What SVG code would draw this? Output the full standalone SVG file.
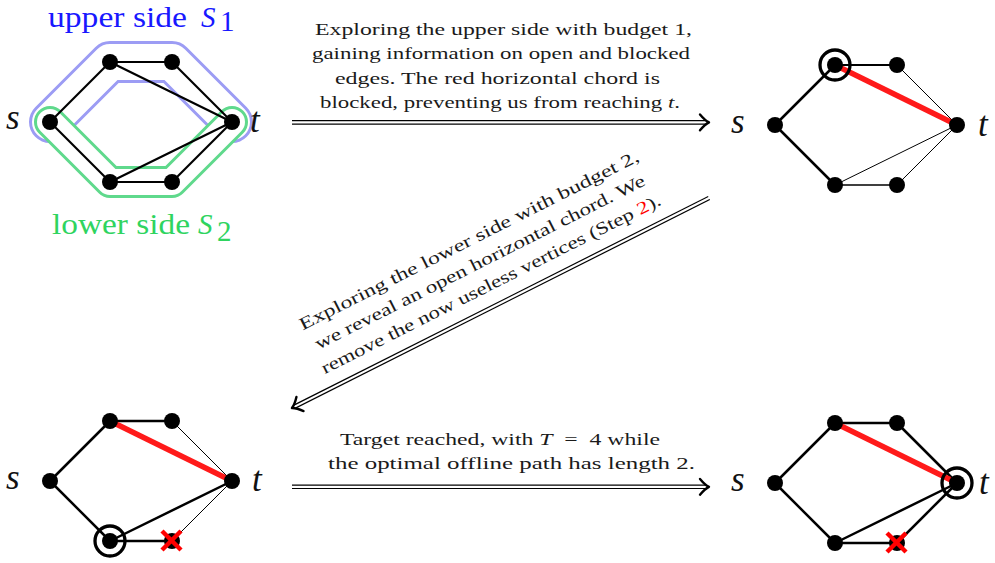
<svg xmlns="http://www.w3.org/2000/svg" width="995" height="563" viewBox="0 0 995 563">
<style>
.lbl{font-family:"Liberation Serif","DejaVu Serif",serif;font-size:17.5px;fill:#1a1a1a}
.math{font-family:"Liberation Serif","DejaVu Serif",serif;font-style:italic;font-size:35px;fill:#111}
.side{font-family:"Liberation Serif","DejaVu Serif",serif;font-size:29px}
.e{stroke:#000;stroke-linecap:round;fill:none}
.red{stroke:#ff1a1a;stroke-width:5.5;stroke-linecap:butt}
.node{fill:#000}
.ring{fill:none;stroke:#000;stroke-width:3.3}
.x{stroke:#ff0000;stroke-width:4.5;stroke-linecap:butt}
.dbl-o{stroke:#000;stroke-width:4.6;fill:none}
.dbl-i{stroke:#fff;stroke-width:2.2;fill:none}
.head{stroke:#000;stroke-width:2.4;fill:none;stroke-linecap:round;stroke-linejoin:round}
</style>
<rect width="995" height="563" fill="#fff"/>

<!-- Panel 1 -->
<g id="panel1">
<g id="bands">
<path d="M50,122 L110,62 L172,62 L232,122" fill="none" stroke="#9c9cf4" stroke-width="42" stroke-linejoin="round" stroke-linecap="round"/>
<path d="M50,122 L110,62 L172,62 L232,122" fill="none" stroke="#fff" stroke-width="36" stroke-linejoin="round" stroke-linecap="round"/>
<path d="M50,122 L110,182 L172,182 L232,122" fill="none" stroke="#5fd98c" stroke-width="32" stroke-linejoin="round" stroke-linecap="round"/>
<path d="M50,122 L110,182 L172,182 L232,122" fill="none" stroke="#fff" stroke-width="26" stroke-linejoin="round" stroke-linecap="round"/>
</g>
<g id="p1-edges" class="e" stroke-width="2.2">
<line x1="50" y1="122" x2="110" y2="62"/>
<line x1="110" y1="62" x2="172" y2="62"/>
<line x1="172" y1="62" x2="232" y2="122"/>
<line x1="110" y1="62" x2="232" y2="122"/>
<line x1="50" y1="122" x2="110" y2="182"/>
<line x1="110" y1="182" x2="172" y2="182"/>
<line x1="172" y1="182" x2="232" y2="122"/>
<line x1="110" y1="182" x2="232" y2="122"/>
</g>
<g id="p1-s"><circle class="node" cx="50" cy="122" r="8"/><text class="math" x="6" y="129">s</text></g>
<g id="p1-ul"><circle class="node" cx="110" cy="62" r="8"/></g>
<g id="p1-ur"><circle class="node" cx="172" cy="62" r="8"/></g>
<g id="p1-t"><circle class="node" cx="232" cy="122" r="8"/><text class="math" x="250" y="132">t</text></g>
<g id="p1-ll"><circle class="node" cx="110" cy="182" r="8"/></g>
<g id="p1-lr"><circle class="node" cx="172" cy="182" r="8"/></g>
<g id="label-upper" fill="#1818ff">
<text class="side" x="48" y="27" textLength="139" lengthAdjust="spacingAndGlyphs">upper side</text>
<text class="side" x="201" y="27" font-style="italic">S</text>
<text class="side" x="220" y="31" font-size="19">1</text>
</g>
<g id="label-lower" fill="#2fd45f">
<text class="side" x="52" y="234" textLength="138" lengthAdjust="spacingAndGlyphs">lower side</text>
<text class="side" x="198" y="234" font-style="italic">S</text>
<text class="side" x="217" y="241" font-size="19">2</text>
</g>
</g>

<!-- Panel 2 -->
<g id="panel2" transform="translate(725,3)">
<g id="p2-edges" class="e">
<line x1="50" y1="122" x2="110" y2="62" stroke-width="2.5"/>
<line x1="50" y1="122" x2="110" y2="182" stroke-width="2.5"/>
<line x1="110" y1="62" x2="172" y2="62" stroke-width="2"/>
<line x1="172" y1="62" x2="232" y2="122" stroke-width="1"/>
<line x1="110" y1="182" x2="232" y2="122" stroke-width="1"/>
<line x1="110" y1="182" x2="172" y2="182" stroke-width="1.3"/>
<line x1="172" y1="182" x2="232" y2="122" stroke-width="1"/>
<line class="red" x1="110" y1="62" x2="232" y2="122"/>
</g>
<g id="p2-s"><circle class="node" cx="50" cy="122" r="8"/><text class="math" x="6" y="130">s</text></g>
<g id="p2-ul"><circle class="node" cx="110" cy="62" r="8"/><circle class="ring" cx="110" cy="62" r="15"/></g>
<g id="p2-ur"><circle class="node" cx="172" cy="62" r="8"/></g>
<g id="p2-t"><circle class="node" cx="232" cy="122" r="8"/><text class="math" x="253" y="133">t</text></g>
<g id="p2-ll"><circle class="node" cx="110" cy="182" r="8"/></g>
<g id="p2-lr"><circle class="node" cx="172" cy="182" r="8"/></g>
</g>

<!-- Panel 3 -->
<g id="panel3" transform="translate(0,359)">
<g id="p3-edges" class="e">
<line x1="50" y1="122" x2="110" y2="62" stroke-width="2.5"/>
<line x1="110" y1="62" x2="172" y2="62" stroke-width="2.5"/>
<line x1="172" y1="62" x2="232" y2="122" stroke-width="1"/>
<line x1="50" y1="122" x2="110" y2="182" stroke-width="2.5"/>
<line x1="110" y1="182" x2="232" y2="122" stroke-width="2.5"/>
<line x1="110" y1="182" x2="172" y2="182" stroke-width="2.5"/>
<line x1="172" y1="182" x2="232" y2="122" stroke-width="1"/>
<line class="red" x1="110" y1="62" x2="232" y2="122"/>
</g>
<g id="p3-s"><circle class="node" cx="50" cy="122" r="8"/><text class="math" x="6" y="130">s</text></g>
<g id="p3-ul"><circle class="node" cx="110" cy="62" r="8"/></g>
<g id="p3-ur"><circle class="node" cx="172" cy="62" r="8"/></g>
<g id="p3-t"><circle class="node" cx="232" cy="122" r="8"/><text class="math" x="252" y="132">t</text></g>
<g id="p3-ll"><circle class="node" cx="110" cy="182" r="8"/><circle class="ring" cx="110" cy="182" r="15"/></g>
<g id="p3-lr"><circle class="node" cx="172" cy="182" r="8"/>
<line class="x" x1="162" y1="172" x2="181" y2="191"/><line class="x" x1="181" y1="172" x2="162" y2="191"/></g>
</g>

<!-- Panel 4 -->
<g id="panel4" transform="translate(725,361)">
<g id="p4-edges" class="e" stroke-width="2.5">
<line x1="50" y1="122" x2="110" y2="62"/>
<line x1="110" y1="62" x2="172" y2="62"/>
<line x1="172" y1="62" x2="232" y2="122"/>
<line x1="50" y1="122" x2="110" y2="182"/>
<line x1="110" y1="182" x2="232" y2="122"/>
<line x1="110" y1="182" x2="172" y2="182"/>
<line x1="172" y1="182" x2="232" y2="122"/>
<line class="red" x1="110" y1="62" x2="232" y2="122"/>
</g>
<g id="p4-s"><circle class="node" cx="50" cy="122" r="8"/><text class="math" x="6" y="130">s</text></g>
<g id="p4-ul"><circle class="node" cx="110" cy="62" r="8"/></g>
<g id="p4-ur"><circle class="node" cx="172" cy="62" r="8"/></g>
<g id="p4-t"><circle class="node" cx="232" cy="122" r="8"/><circle class="ring" cx="232" cy="122" r="15"/><text class="math" x="254" y="133">t</text></g>
<g id="p4-ll"><circle class="node" cx="110" cy="182" r="8"/></g>
<g id="p4-lr"><circle class="node" cx="172" cy="182" r="8"/>
<line class="x" x1="162" y1="172" x2="181" y2="191"/><line class="x" x1="181" y1="172" x2="162" y2="191"/></g>
</g>

<!-- Connectors -->
<g id="connectors">
<g id="arrow1">
<line class="dbl-o" x1="292" y1="122.4" x2="706" y2="122.4"/>
<line class="dbl-i" x1="291" y1="122.4" x2="707" y2="122.4"/>
<path class="head" d="M700,114.5 Q705,120.5 709,122.4 Q705,124.3 700,130.3"/>
<text class="lbl" x="315" y="34.5" textLength="377" lengthAdjust="spacingAndGlyphs">Exploring the upper side with budget 1,</text>
<text class="lbl" x="312" y="59" textLength="378" lengthAdjust="spacingAndGlyphs">gaining information on open and blocked</text>
<text class="lbl" x="335" y="83.5" textLength="325" lengthAdjust="spacingAndGlyphs">edges. The red horizontal chord is</text>
<text class="lbl" x="320" y="108" textLength="360" lengthAdjust="spacingAndGlyphs">blocked, preventing us from reaching <tspan font-style="italic">t</tspan>.</text>
</g>
<g id="arrow2" transform="translate(500.5,303) rotate(-26.73)">
<line class="dbl-o" x1="233.5" y1="0" x2="-230.5" y2="0"/>
<line class="dbl-i" x1="234.5" y1="0" x2="-231.5" y2="0"/>
<path class="head" d="M-224.5,-7.9 Q-229.5,-1.9 -233.5,0 Q-229.5,1.9 -224.5,7.9"/>
<text class="lbl" x="0" y="-64.5" text-anchor="middle" textLength="378" lengthAdjust="spacingAndGlyphs">Exploring the lower side with budget 2,</text>
<text class="lbl" x="0" y="-40" text-anchor="middle" textLength="367" lengthAdjust="spacingAndGlyphs">we reveal an open horizontal chord. We</text>
<text class="lbl" x="0" y="-15.5" text-anchor="middle" textLength="378" lengthAdjust="spacingAndGlyphs">remove the now useless vertices (Step <tspan fill="#ff0000">2</tspan>).</text>
</g>
<g id="arrow3">
<line class="dbl-o" x1="292" y1="486.8" x2="706" y2="486.8"/>
<line class="dbl-i" x1="291" y1="486.8" x2="707" y2="486.8"/>
<path class="head" d="M700,478.9 Q705,484.9 709,486.8 Q705,488.7 700,494.7"/>
<text class="lbl" x="340" y="445" textLength="320" lengthAdjust="spacingAndGlyphs">Target reached, with <tspan font-style="italic">T</tspan>&#160;&#160;=&#160;&#160;4 while</text>
<text class="lbl" x="328" y="468.5" textLength="367" lengthAdjust="spacingAndGlyphs">the optimal offline path has length 2.</text>
</g>
</g>
</svg>
